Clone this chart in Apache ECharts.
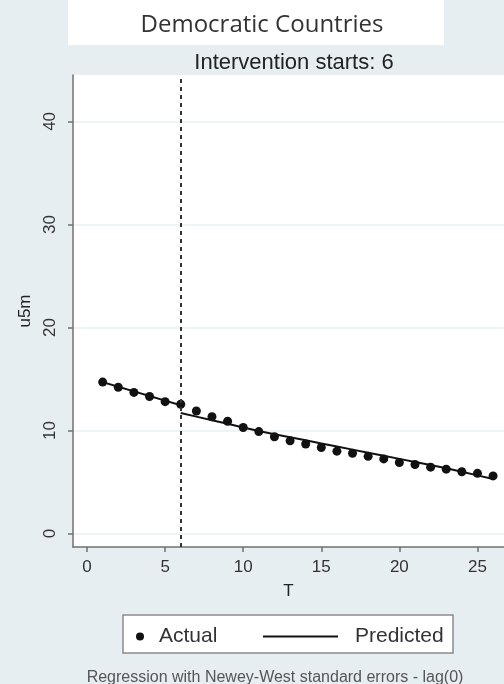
<!DOCTYPE html>
<html>
<head>
<meta charset="utf-8">
<script src="https://cdn.jsdelivr.net/npm/echarts@6/dist/echarts.min.js"></script>
<style>
  html, body { margin: 0; padding: 0; background: #e7eef2; }
  #chart { width: 504px; height: 684px; }
</style>
</head>
<body>
<div id="chart"></div>
<script>
// Time periods and under-5 mortality (u5m) for democratic countries
const periods = [1, 2, 3, 4, 5, 6, 7, 8, 9, 10, 11, 12, 13, 14, 15, 16, 17, 18, 19, 20, 21, 22, 23, 24, 25, 26];
const actual = [14.7, 14.2, 13.7, 13.3, 12.8, 12.55, 11.9, 11.35, 10.9, 10.3, 9.9, 9.4, 9.0, 8.7, 8.35, 8.0, 7.8, 7.5, 7.25, 6.9, 6.7, 6.45, 6.25, 6.0, 5.85, 5.6];

// Fitted trend before the intervention (periods 1-6) and after it (periods 6-26)
const prePeriods = [1, 2, 3, 4, 5, 6];
const predictedPre = [14.7, 14.25, 13.8, 13.35, 12.9, 12.45];
const postPeriods = [6, 7, 8, 9, 10, 11, 12, 13, 14, 15, 16, 17, 18, 19, 20, 21, 22, 23, 24, 25, 26];
const predictedPost = [11.7, 11.35, 11.0, 10.65, 10.3, 9.95, 9.65, 9.35, 9.05, 8.75, 8.45, 8.15, 7.85, 7.55, 7.25, 6.95, 6.65, 6.35, 6.0, 5.65, 5.3];

const interventionStart = 6;
const xTicks = [0, 5, 10, 15, 20, 25];
const yTicks = [0, 10, 20, 30, 40];

const pairs = (xs, ys) => xs.map((x, i) => [x, ys[i]]);

const chart = echarts.init(document.getElementById('chart'), null, { renderer: 'canvas' });

const axisGrey = '#707070';
const sans = '"Liberation Sans", Arial, sans-serif';

chart.setOption({
  backgroundColor: '#e7eef2',
  animation: false,
  title: [
    {
      text: 'Democratic Countries',
      left: 257, top: 8, textAlign: 'center',
      textStyle: { fontFamily: '"Open Sans", sans-serif', fontSize: 24, fontWeight: 'normal', color: '#333' }
    },
    {
      text: 'Intervention starts: ' + interventionStart,
      left: 289, top: 47, textAlign: 'center',
      textStyle: { fontFamily: sans, fontSize: 22, fontWeight: 'normal', color: '#222' }
    },
    {
      text: 'Regression with Newey-West standard errors - lag(0)',
      left: 270, top: 665, textAlign: 'center',
      textStyle: { fontFamily: sans, fontSize: 16, fontWeight: 'normal', color: '#555' }
    }
  ],
  graphic: [
    { type: 'rect', z: -1, shape: { x: 68, y: 0, width: 376, height: 45 }, style: { fill: '#ffffff' } },
    { type: 'rect', z: -1, shape: { x: 123, y: 615, width: 330, height: 38 }, style: { fill: '#ffffff', stroke: '#8a8a8a', lineWidth: 1.5 } }
  ],
  legend: [
    {
      data: [{ name: 'Actual', icon: 'circle' }],
      left: 131, top: 621,
      itemWidth: 8, itemHeight: 8,
      selectedMode: false,
      textStyle: { fontFamily: sans, fontSize: 21, color: '#333', padding: [0, 0, 0, 10] }
    },
    {
      data: [{ name: 'Predicted', icon: 'rect' }],
      left: 258, top: 621,
      itemWidth: 75, itemHeight: 2,
      selectedMode: false,
      textStyle: { fontFamily: sans, fontSize: 21, color: '#333', padding: [0, 0, 0, 12] }
    }
  ],
  grid: {
    left: 73, right: 0, top: 75, bottom: 137,
    show: true, backgroundColor: '#ffffff', borderWidth: 0
  },
  xAxis: {
    type: 'value',
    min: -0.9, max: 26.7,
    name: 'T', nameLocation: 'middle', nameGap: 36,
    nameTextStyle: { fontFamily: sans, fontSize: 17, color: '#222' },
    axisLine: { show: true, onZero: false, lineStyle: { color: axisGrey, width: 1.5 } },
    axisTick: { show: true, length: 5, customValues: xTicks, lineStyle: { color: axisGrey, width: 1.5 } },
    axisLabel: { customValues: xTicks, margin: 12, fontFamily: sans, fontSize: 17, color: '#333' },
    splitLine: { show: false }
  },
  yAxis: {
    type: 'value',
    min: -1.3, max: 44.5,
    name: 'u5m', nameLocation: 'middle', nameGap: 38,
    nameTextStyle: { fontFamily: sans, fontSize: 17, color: '#222' },
    axisLine: { show: true, onZero: false, lineStyle: { color: axisGrey, width: 1.5 } },
    axisTick: { show: true, length: 5, customValues: yTicks, lineStyle: { color: axisGrey, width: 1.5 } },
    axisLabel: { customValues: yTicks, rotate: 90, margin: 14, fontFamily: sans, fontSize: 17, color: '#333' },
    splitLine: { show: true, lineStyle: { color: '#e9eff2', width: 1.5 } }
  },
  series: [
    {
      name: 'Actual',
      type: 'scatter',
      data: pairs(periods, actual),
      symbol: 'circle',
      symbolSize: 9,
      itemStyle: { color: '#111', opacity: 1 },
      z: 3,
      markLine: {
        silent: true,
        symbol: 'none',
        label: { show: false },
        lineStyle: { color: '#333', width: 2, type: [4, 4] },
        data: [{ xAxis: interventionStart }]
      }
    },
    {
      name: 'Predicted',
      type: 'line',
      data: pairs(prePeriods, predictedPre),
      symbol: 'none',
      showSymbol: false,
      lineStyle: { color: '#111', width: 2 },
      itemStyle: { color: '#111' },
      z: 2
    },
    {
      name: 'Predicted',
      type: 'line',
      data: pairs(postPeriods, predictedPost),
      symbol: 'none',
      showSymbol: false,
      lineStyle: { color: '#111', width: 2 },
      itemStyle: { color: '#111' },
      z: 2
    }
  ]
});
</script>
</body>
</html>
